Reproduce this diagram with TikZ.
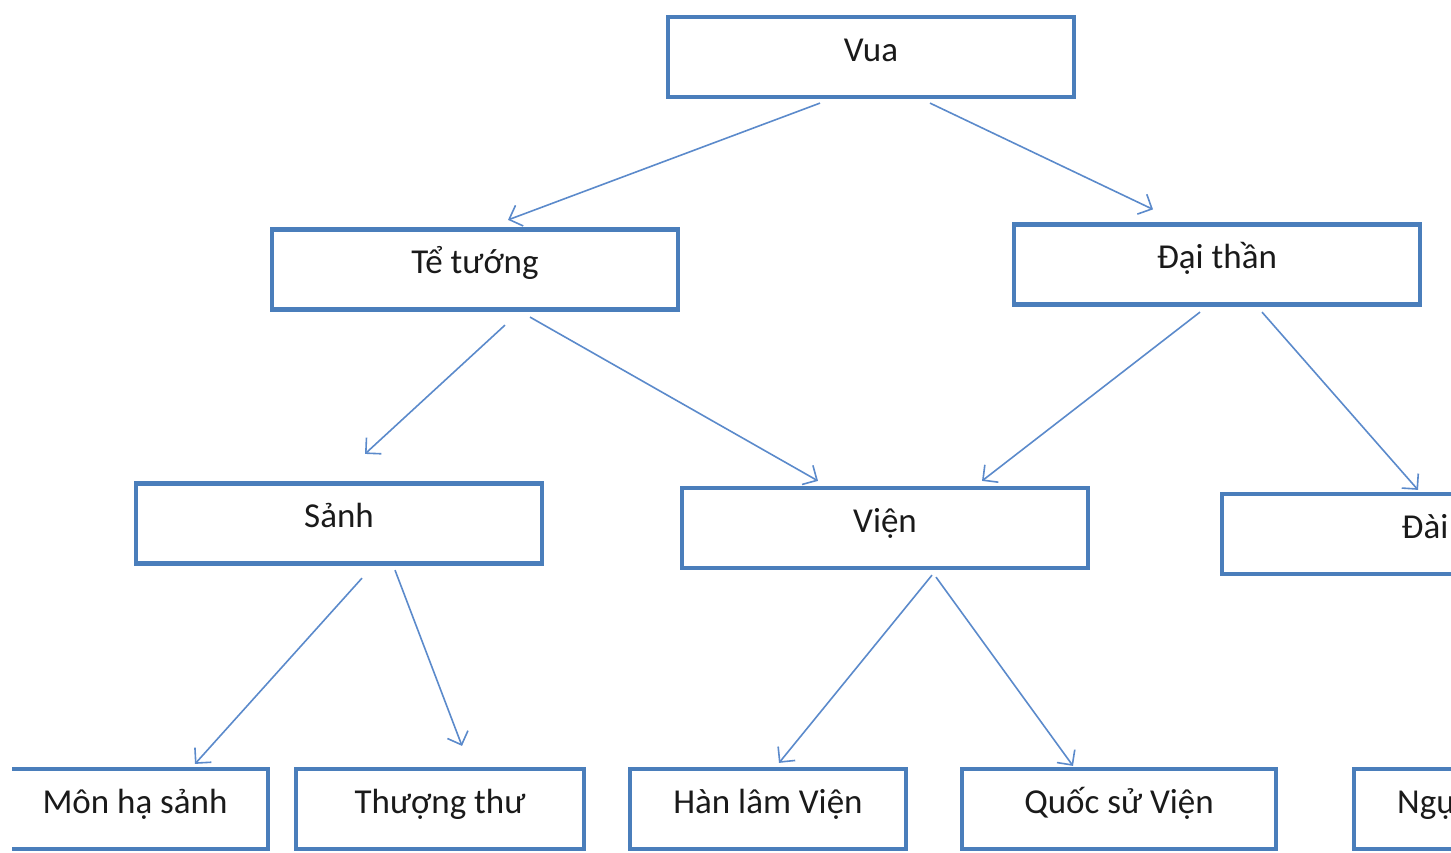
\documentclass[tikz,border=0pt]{standalone}
\usepackage{fontspec}
\setmainfont{Carlito}
\usetikzlibrary{arrows.meta,calc}
\definecolor{boxblue}{HTML}{4A7EBB}
\definecolor{arrblue}{HTML}{5B8ACB}
\definecolor{txt}{HTML}{1A1A1A}
\begin{document}
\begin{tikzpicture}[x=1pt,y=-1pt,
  lbl/.style={text=txt,inner sep=0pt,text height=0.83em,text depth=0em,font=\fontsize{35}{42}\selectfont},
  box/.style={lbl,draw=boxblue,line width=4.2pt,minimum height=80pt},
  conn/.style={draw=arrblue,line width=1.6pt,-{Straight Barb[length=11pt,width=22pt]}}]
\useasboundingbox (0,0) rectangle (1451,852);
\begin{scope}
\clip (12,0) rectangle (1451,852);
\node[box,minimum width=406pt] (vua) at (871,57) {Vua};
\node[box,minimum width=406pt] (te) at (475,269.5) {Tể tướng};
\node[box,minimum width=406pt] (dai) at (1217,264.5) {Đại thần};
\node[box,minimum width=406pt] (sanh) at (339,523.5) {Sảnh};
\node[box,minimum width=406pt] (vien) at (885,528) {Viện};
\node[box,minimum width=406pt] (dai2) at (1425,534) {Đài};
\node[box,minimum width=266pt] (mon) at (135,809) {Môn hạ sảnh};
\node[box,minimum width=288pt] (thuong) at (440,809) {Thượng thư};
\node[box,minimum width=276pt] (han) at (768,809) {Hàn lâm Viện};
\node[box,minimum width=314pt] (quoc) at (1119,809) {Quốc sử Viện};
\node[box,minimum width=406pt] (ngu) at (1557,809) {};
\node[lbl,anchor=west] (ngut) at (1397,809) {Ngự sử đài};
\draw[conn] ($(vua.south)+(-51,4)$) -- ($(te.north)+(33,-7.5)$);
\draw[conn] ($(vua.south)+(59,4)$) -- ($(dai.north)+(-64,-13)$);
\draw[conn] ($(te.south)+(30,13.5)$) -- ($(sanh.north)+(26,-27.5)$);
\draw[conn] ($(te.south)+(55,5.5)$) -- ($(vien.north)+(-67,-5)$);
\draw[conn] ($(dai.south)+(-17,5.5)$) -- ($(vien.north)+(97,-5)$);
\draw[conn] ($(dai.south)+(45,5.5)$) -- ($(dai2.north)+(-7,-2)$);
\draw[conn] ($(sanh.south)+(23,12.5)$) -- ($(mon.north)+(60,-3)$);
\draw[conn] ($(sanh.south)+(56,4.5)$) -- ($(thuong.north)+(22,-21)$);
\draw[conn] ($(vien.south)+(47,5)$) -- ($(han.north)+(11,-4)$);
\draw[conn] ($(vien.south)+(51,7)$) -- ($(quoc.north)+(-46,-1)$);
\end{scope}
\end{tikzpicture}
\end{document}
